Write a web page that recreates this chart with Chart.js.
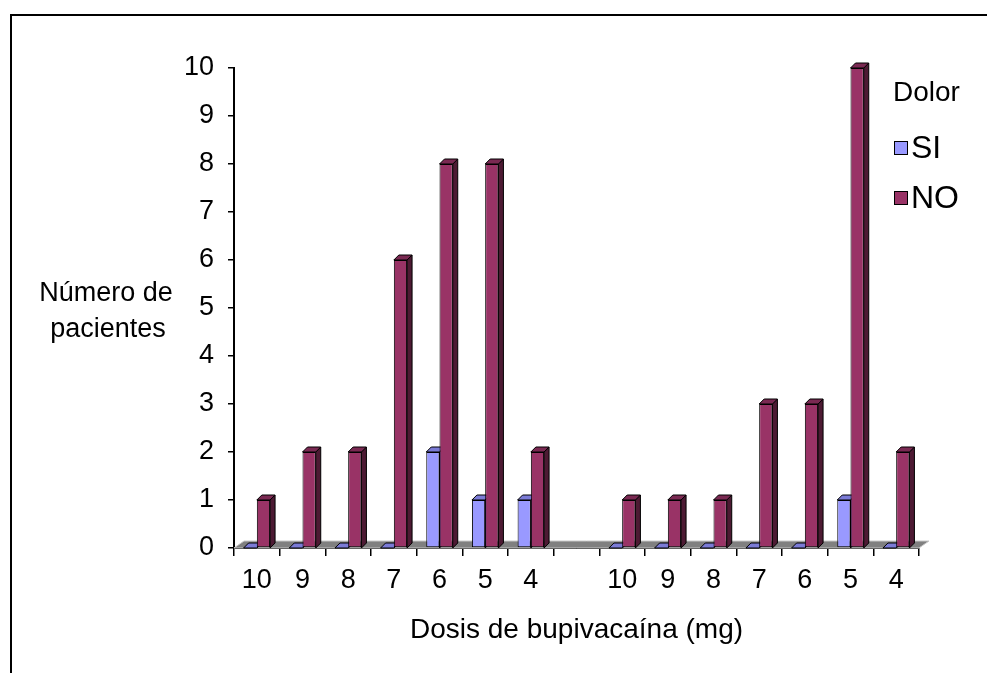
<!DOCTYPE html>
<html>
<head>
<meta charset="utf-8">
<script src="https://cdn.jsdelivr.net/npm/chart.js@4.4.0/dist/chart.umd.min.js"></script>
<style>
  html, body { margin: 0; padding: 0; background: #fff; }
  #wrap { position: relative; width: 987px; height: 673px; }
</style>
</head>
<body>
<div id="wrap"><canvas id="doseChart" width="987" height="673"></canvas></div>
<script>
// dosis (mg), dos grupos separados por una categoría vacía
const doses = ["10", "9", "8", "7", "6", "5", "4", "", "10", "9", "8", "7", "6", "5", "4"];
const painYes = [0, 0, 0, 0, 2, 1, 1, null, 0, 0, 0, 0, 0, 1, 0];
const painNo = [1, 2, 2, 6, 8, 8, 2, null, 1, 1, 1, 3, 3, 10, 2];
const legendTitle = "Dolor";
const yTitle = ["Número de", "pacientes"];
const xTitle = "Dosis de bupivacaína (mg)";

const FONT = "'Liberation Sans', Arial, sans-serif";
const D = 5; // profundidad de las barras

function poly(ctx, pts, fill) {
    ctx.beginPath();
    ctx.moveTo(pts[0][0], pts[0][1]);
    for (let i = 1; i < pts.length; i++) ctx.lineTo(pts[i][0], pts[i][1]);
    ctx.closePath();
    ctx.fillStyle = fill;
    ctx.fill();
    ctx.stroke();
}

// suelo gris + caras laterales y superiores de las barras
const shade3d = {
    id: "shade3d",
    beforeDatasetsDraw(chart) {
        const ctx = chart.ctx;
        const area = chart.chartArea;
        const base = chart.scales.y.getPixelForValue(0);
        ctx.save();
        ctx.lineWidth = 1;
        ctx.strokeStyle = "#c8c8c8";
        poly(ctx, [[area.left, base], [area.right, base], [area.right + 10, base - 7], [area.left + 10, base - 7]], "#808080");

        ctx.strokeStyle = "#000";
        chart.data.datasets.forEach((ds, i) => {
            const meta = chart.getDatasetMeta(i);
            meta.data.forEach((bar, j) => {
                if (ds.data[j] == null) return;
                const p = bar.getProps(["x", "y", "width"], true);
                const x0 = p.x - p.width / 2, x1 = p.x + p.width / 2;
                poly(ctx, [[x1, p.y], [x1 + D, p.y - D], [x1 + D, base - D], [x1, base]], ds.sideColor);
                poly(ctx, [[x0, p.y], [x1, p.y], [x1 + D, p.y - D], [x0 + D, p.y - D]], ds.topColor);
            });
        });
        ctx.restore();
    },
    afterDraw(chart) {
        const ctx = chart.ctx;
        ctx.save();
        // marco
        ctx.strokeStyle = "#000";
        ctx.lineWidth = 2;
        ctx.beginPath();
        ctx.moveTo(987, 15);
        ctx.lineTo(11, 15);
        ctx.lineTo(11, 673);
        ctx.stroke();

        ctx.fillStyle = "#000";
        ctx.textBaseline = "middle";
        // título eje y, horizontal en dos líneas
        ctx.textAlign = "center";
        ctx.font = "27px " + FONT;
        ctx.fillText(yTitle[0], 106, 294);
        ctx.fillText(yTitle[1], 108, 330);

        // leyenda
        ctx.textAlign = "left";
        ctx.font = "28px " + FONT;
        ctx.fillText(legendTitle, 893, 93);
        ctx.font = "32px " + FONT;
        ctx.lineWidth = 1;
        chart.data.datasets.forEach((ds, i) => {
            const cy = 148 + i * 50;
            ctx.fillStyle = ds.backgroundColor;
            ctx.fillRect(894.5, cy - 6.5, 13, 13);
            ctx.strokeRect(894.5, cy - 6.5, 13, 13);
            ctx.fillStyle = "#000";
            ctx.fillText(ds.label, 911, cy + 1);
        });
        ctx.restore();
    }
};

new Chart(document.getElementById("doseChart"), {
    type: "bar",
    data: {
        labels: doses,
        datasets: [
            {
                label: "SI",
                data: painYes,
                backgroundColor: "#9999ff",
                topColor: "#7b7bd6",
                sideColor: "#5c5cb0",
                borderColor: "#000",
                borderWidth: 1,
                borderSkipped: false,
                categoryPercentage: 0.58,
                barPercentage: 1.0
            },
            {
                label: "NO",
                data: painNo,
                backgroundColor: "#993366",
                topColor: "#7a2952",
                sideColor: "#4d1a33",
                borderColor: "#000",
                borderWidth: 1,
                borderSkipped: false,
                categoryPercentage: 0.58,
                barPercentage: 1.0
            }
        ]
    },
    options: {
        responsive: false,
        animation: false,
        layout: { padding: { left: 0, right: 68, top: 68, bottom: 0 } },
        plugins: {
            legend: { display: false },
            tooltip: { enabled: false }
        },
        scales: {
            x: {
                afterFit: (scale) => { scale.height = 125; },
                grid: {
                    offset: true,
                    drawOnChartArea: false,
                    drawTicks: true,
                    tickLength: 8,
                    color: "#000",
                    lineWidth: 1.5
                },
                border: { display: true, color: "#000", width: 2 },
                ticks: {
                    color: "#000",
                    font: { family: FONT, size: 27 },
                    padding: 8,
                    maxRotation: 0,
                    autoSkip: false
                },
                title: {
                    display: true,
                    text: xTitle,
                    color: "#000",
                    font: { family: FONT, size: 28 },
                    padding: { top: 0, bottom: 26 }
                }
            },
            y: {
                min: 0,
                max: 10,
                afterFit: (scale) => { scale.width = 234; },
                grid: {
                    drawOnChartArea: false,
                    drawTicks: true,
                    tickLength: 6,
                    color: "#000",
                    lineWidth: 1.5
                },
                border: { display: true, color: "#000", width: 2 },
                ticks: {
                    stepSize: 1,
                    color: "#000",
                    font: { family: FONT, size: 27 },
                    padding: 14
                }
            }
        }
    },
    plugins: [shade3d]
});
</script>
</body>
</html>
